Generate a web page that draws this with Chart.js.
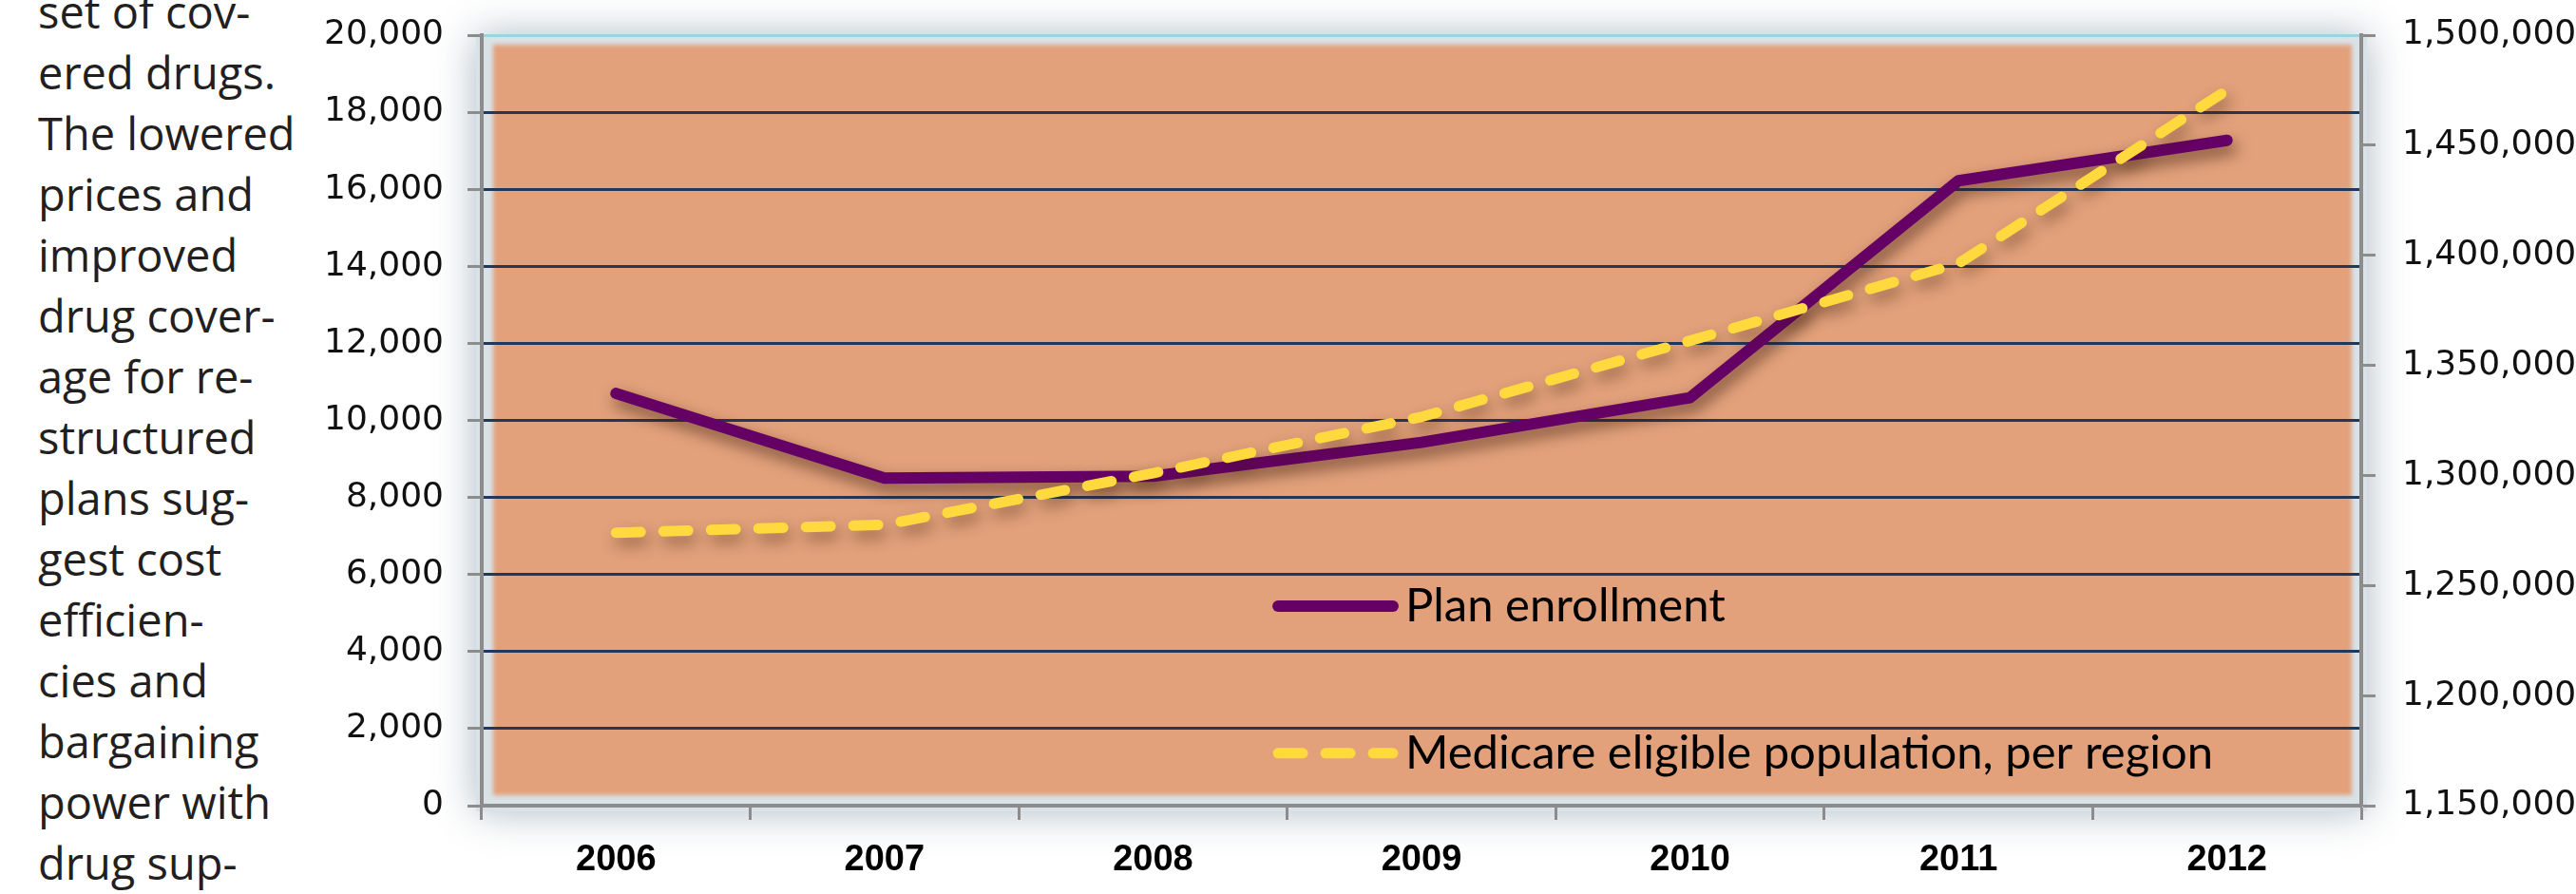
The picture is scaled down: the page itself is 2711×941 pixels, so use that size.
<!DOCTYPE html>
<html lang="en">
<head>
    <meta charset="UTF-8">
    <title>Plan enrollment and Medicare eligible population, 2006-2012</title>
    <style>
        body {
            margin: 0;
            padding: 0;
            background: #fff;
            width: 2711px;
            height: 941px;
            overflow: hidden;
            position: relative;
        }
        .side-text {
            position: absolute;
            left: 40px;
            top: -20px;
            font-family: "Open Sans", sans-serif;
            font-size: 47px;
            line-height: 64px;
            color: #231f20;
            white-space: pre;
        }
        .chart-box {
            position: absolute;
            left: 0;
            top: 0;
            width: 2711px;
            height: 941px;
        }
    </style>
</head>
<body>
    <div class="side-text">set of cov-
ered drugs.
The lowered
prices and
improved
drug cover-
age for re-
structured
plans sug-
gest cost
efficien-
cies and
bargaining
power with
drug sup-</div>

    <div class="chart-box">
        <canvas id="enrollChart" width="2711" height="941"></canvas>
    </div>

    <script src="https://cdn.jsdelivr.net/npm/chart.js"></script>
    <script>
        // data
        const years = ['2006', '2007', '2008', '2009', '2010', '2011', '2012'];
        const planEnrollment = [10700, 8500, 8550, 9430, 10590, 16220, 17270];
        const eligiblePopulation = [1274000, 1277600, 1301000, 1326600, 1361200, 1396300, 1475000];
        const leftTickLabels = ['0', '2,000', '4,000', '6,000', '8,000', '10,000', '12,000', '14,000', '16,000', '18,000', '20,000'];
        const rightTickLabels = ['1,150,000', '1,200,000', '1,250,000', '1,300,000', '1,350,000', '1,400,000', '1,450,000', '1,500,000'];
        const seriesNames = ['Plan enrollment', 'Medicare eligible population, per region'];

        const axisGray = '#8c8c8c';
        const purple = '#650065';
        const yellow = '#ffd93d';

        // light frame + orange plot area behind the grid
        const framePlugin = {
            id: 'frame',
            beforeDraw(chart) {
                const { ctx, chartArea: a } = chart;
                ctx.save();
                ctx.shadowColor = 'rgba(70, 100, 120, 0.45)';
                ctx.shadowBlur = 40;
                ctx.fillStyle = '#d9e2e7';
                ctx.fillRect(a.left - 6, a.top, a.width + 12, a.height + 6);
                ctx.restore();

                ctx.save();
                ctx.filter = 'blur(2px)';
                ctx.fillStyle = '#e2a17b';
                ctx.fillRect(a.left + 12, a.top + 10, a.width - 22, a.height - 21);
                ctx.restore();
            }
        };

        // soft drop shadow under the lines
        const shadowPlugin = {
            id: 'lineShadow',
            beforeDatasetDraw(chart, args) {
                const ctx = chart.ctx;
                ctx.save();
                ctx.shadowColor = args.index === 0 ? 'rgba(50, 20, 10, 0.6)' : 'rgba(60, 30, 10, 0.45)';
                ctx.shadowBlur = 16;
                ctx.shadowOffsetX = 4;
                ctx.shadowOffsetY = 8;
            },
            afterDatasetDraw(chart) {
                chart.ctx.restore();
            }
        };

        // legend sits inside the plot area
        const innerLegend = {
            id: 'innerLegend',
            afterDraw(chart) {
                const { ctx, chartArea: a } = chart;
                const x0 = a.left + a.width * 0.4237;
                const x1 = a.left + a.width * 0.4848;
                const tx = a.left + a.width * 0.4914;
                const rows = [a.top + a.height * 0.741, a.top + a.height * 0.932];
                chart.data.datasets.forEach((ds, i) => {
                    const y = rows[i];
                    ctx.save();
                    ctx.strokeStyle = ds.borderColor;
                    ctx.lineWidth = ds.borderWidth;
                    ctx.lineCap = 'round';
                    ctx.setLineDash(ds.borderDash || []);
                    ctx.beginPath();
                    ctx.moveTo(x0, y);
                    ctx.lineTo(x1, y);
                    ctx.stroke();
                    ctx.setLineDash([]);
                    ctx.fillStyle = '#000';
                    ctx.font = '49px Lato';
                    ctx.textBaseline = 'alphabetic';
                    ctx.fillText(ds.label, tx, y + 16);
                    ctx.restore();
                });
            }
        };

        // fixed axis widths; no extra label padding so the plot top sits where it should
        function fitSide(width) {
            return s => {
                s.width = width;
                s.paddingTop = 0;
                s.paddingBottom = 0;
            };
        }

        const ctx = document.getElementById('enrollChart').getContext('2d');
        new Chart(ctx, {
            type: 'line',
            data: {
                labels: years,
                datasets: [{
                    label: seriesNames[0],
                    data: planEnrollment,
                    yAxisID: 'y',
                    borderColor: purple,
                    borderWidth: 12,
                    borderCapStyle: 'round',
                    borderJoinStyle: 'round',
                    pointRadius: 0,
                    tension: 0,
                    order: 1
                }, {
                    label: seriesNames[1],
                    data: eligiblePopulation,
                    yAxisID: 'y1',
                    borderColor: yellow,
                    borderWidth: 11,
                    borderDash: [26, 24],
                    borderCapStyle: 'round',
                    borderJoinStyle: 'round',
                    pointRadius: 0,
                    tension: 0,
                    order: 0
                }]
            },
            options: {
                responsive: false,
                animation: false,
                layout: { padding: { top: 37, left: 0, right: 0, bottom: 0 } },
                plugins: {
                    legend: { display: false },
                    tooltip: { enabled: false }
                },
                scales: {
                    x: {
                        offset: true,
                        grid: {
                            offset: true,
                            drawOnChartArea: false,
                            tickLength: 15,
                            tickWidth: 3,
                            tickColor: axisGray
                        },
                        border: { color: axisGray, width: 4 },
                        ticks: {
                            color: '#000',
                            padding: 20,
                            maxRotation: 0,
                            font: { family: 'Liberation Sans', weight: 'bold', size: 38 }
                        },
                        afterFit: s => { s.height = 93; }
                    },
                    y: {
                        position: 'left',
                        min: 0,
                        max: 20000,
                        ticks: {
                            stepSize: 2000,
                            color: '#111',
                            padding: 25,
                            font: { family: 'DejaVu Sans', size: 36 },
                            callback: (v, i) => leftTickLabels[i]
                        },
                        grid: {
                            lineWidth: 3,
                            color: c => {
                                if (c.tick && c.tick.value === 20000) return '#9dd2e3';
                                if (c.tick && c.tick.value === 0) return 'rgba(0,0,0,0)';
                                return '#22385a';
                            },
                            tickLength: 15,
                            tickWidth: 3,
                            tickColor: axisGray
                        },
                        border: { color: axisGray, width: 4 },
                        afterFit: fitSide(507)
                    },
                    y1: {
                        position: 'right',
                        min: 1150000,
                        max: 1500000,
                        ticks: {
                            stepSize: 50000,
                            color: '#111',
                            padding: 28,
                            font: { family: 'DejaVu Sans', size: 36 },
                            callback: (v, i) => rightTickLabels[i]
                        },
                        grid: {
                            drawOnChartArea: false,
                            tickLength: 15,
                            tickWidth: 3,
                            tickColor: axisGray
                        },
                        border: { color: axisGray, width: 4 },
                        afterFit: fitSide(226)
                    }
                }
            },
            plugins: [framePlugin, shadowPlugin, innerLegend]
        });
    </script>
</body>
</html>
